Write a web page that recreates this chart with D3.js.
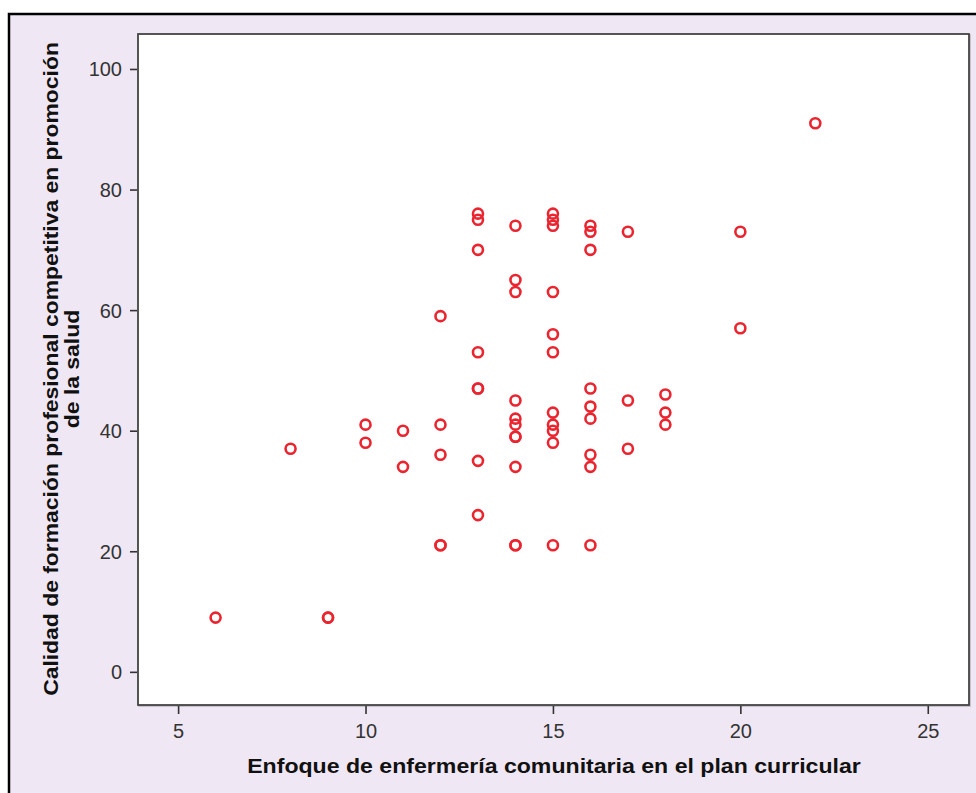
<!DOCTYPE html>
<html>
<head>
<meta charset="utf-8">
<script src="https://cdn.jsdelivr.net/npm/d3@7"></script>
<style>
  body { margin: 0; background: #fff; }
  svg { display: block; }
</style>
</head>
<body>
<script>
// data (x = enfoque, y = calidad)
const xVals = [6, 8, 9, 9, 10, 10, 11, 11, 12, 12, 12, 12, 12,
  13, 13, 13, 13, 13, 13, 13, 13,
  14, 14, 14, 14, 14, 14, 14, 14, 14, 14, 14,
  15, 15, 15, 15, 15, 15, 15, 15, 15, 15, 15,
  16, 16, 16, 16, 16, 16, 16, 16, 16,
  17, 17, 17, 18, 18, 18, 20, 20, 22];
const yVals = [9, 37, 9, 9, 41, 38, 40, 34, 59, 41, 36, 21, 21,
  76, 75, 70, 53, 47, 47, 35, 26,
  74, 65, 63, 45, 42, 41, 39, 39, 34, 21, 21,
  76, 75, 74, 63, 56, 53, 43, 41, 40, 38, 21,
  74, 73, 70, 47, 44, 42, 36, 34, 21,
  73, 45, 37, 46, 43, 41, 73, 57, 91];
const xTicks = [5, 10, 15, 20, 25];
const yTicks = [0, 20, 40, 60, 80, 100];
const xTitle = "Enfoque de enfermería comunitaria en el plan curricular";
const yTitle = ["Calidad de formación profesional competitiva en promoción", "de la salud"];

const dataset = xVals.map((x, i) => ({x: x, y: yVals[i]}));

const width = 976, height = 793;
const plot = {left: 138, right: 969, top: 34, bottom: 705};
const fontFam = "'Liberation Sans', Arial, sans-serif";

let svg = d3.select("body").append("svg")
  .attr("width", width)
  .attr("height", height);

// lavender panel with black frame
svg.append("rect")
  .attr("x", 9).attr("y", 14)
  .attr("width", width + 10).attr("height", height + 10)
  .attr("fill", "#efe7f4")
  .attr("stroke", "#000")
  .attr("stroke-width", 2.5);

let xScale = d3.scaleLinear()
  .domain([3.93, 26.1])
  .range([plot.left, plot.right]);

let yScale = d3.scaleLinear()
  .domain([-5.5, 105.8])
  .range([plot.bottom, plot.top]);

// plot area
svg.append("rect")
  .attr("x", plot.left + 1).attr("y", plot.top + 1)
  .attr("width", plot.right - plot.left).attr("height", plot.bottom - plot.top)
  .attr("fill", "none")
  .attr("stroke", "#b8b4bc")
  .attr("stroke-width", 1.5);
svg.append("rect")
  .attr("x", plot.left).attr("y", plot.top)
  .attr("width", plot.right - plot.left).attr("height", plot.bottom - plot.top)
  .attr("fill", "#fff")
  .attr("stroke", "#444")
  .attr("stroke-width", 1.8);

let xAxis = d3.axisBottom(xScale).tickValues(xTicks).tickSize(8).tickPadding(6).tickSizeOuter(0);
let yAxis = d3.axisLeft(yScale).tickValues(yTicks).tickSize(7).tickPadding(8).tickSizeOuter(0);

let gx = svg.append("g")
  .attr("transform", `translate(0, ${plot.bottom + 1})`)
  .call(xAxis);
let gy = svg.append("g")
  .attr("transform", `translate(${plot.left - 1}, 0)`)
  .call(yAxis);

[gx, gy].forEach(g => {
  g.select(".domain").remove();
  g.selectAll(".tick line").attr("stroke", "#333").attr("stroke-width", 1.6);
  g.selectAll(".tick text")
    .attr("fill", "#333")
    .style("font-family", fontFam)
    .style("font-size", "20px");
});
gy.selectAll(".tick text").attr("dy", "0.35em");
gx.selectAll(".tick text").attr("dy", "0.9em");

// points
svg.append("g")
  .selectAll("circle")
  .data(dataset)
  .enter()
  .append("circle")
  .attr("cx", d => xScale(d.x))
  .attr("cy", d => yScale(d.y))
  .attr("r", 5)
  .attr("fill", "none")
  .attr("stroke", "#ea2530")
  .attr("stroke-width", 2.6);

// titles, stretched a little to the width of the original font
function stretch(sel, factor) {
  const len = sel.node().getComputedTextLength();
  sel.attr("textLength", len * factor).attr("lengthAdjust", "spacingAndGlyphs");
}

let xt = svg.append("text")
  .attr("x", 554)
  .attr("y", 773)
  .attr("text-anchor", "middle")
  .style("font-family", fontFam)
  .style("font-weight", "bold")
  .style("font-size", "21px")
  .attr("fill", "#111")
  .text(xTitle);
stretch(xt, 1.1);

yTitle.forEach((t, i) => {
  let yt = svg.append("text")
    .attr("transform", `translate(${58 + i * 21}, 369) rotate(-90)`)
    .attr("text-anchor", "middle")
    .style("font-family", fontFam)
    .style("font-weight", "bold")
    .style("font-size", "21px")
    .attr("fill", "#111")
    .text(t);
  stretch(yt, 1.09);
});
</script>
</body>
</html>
